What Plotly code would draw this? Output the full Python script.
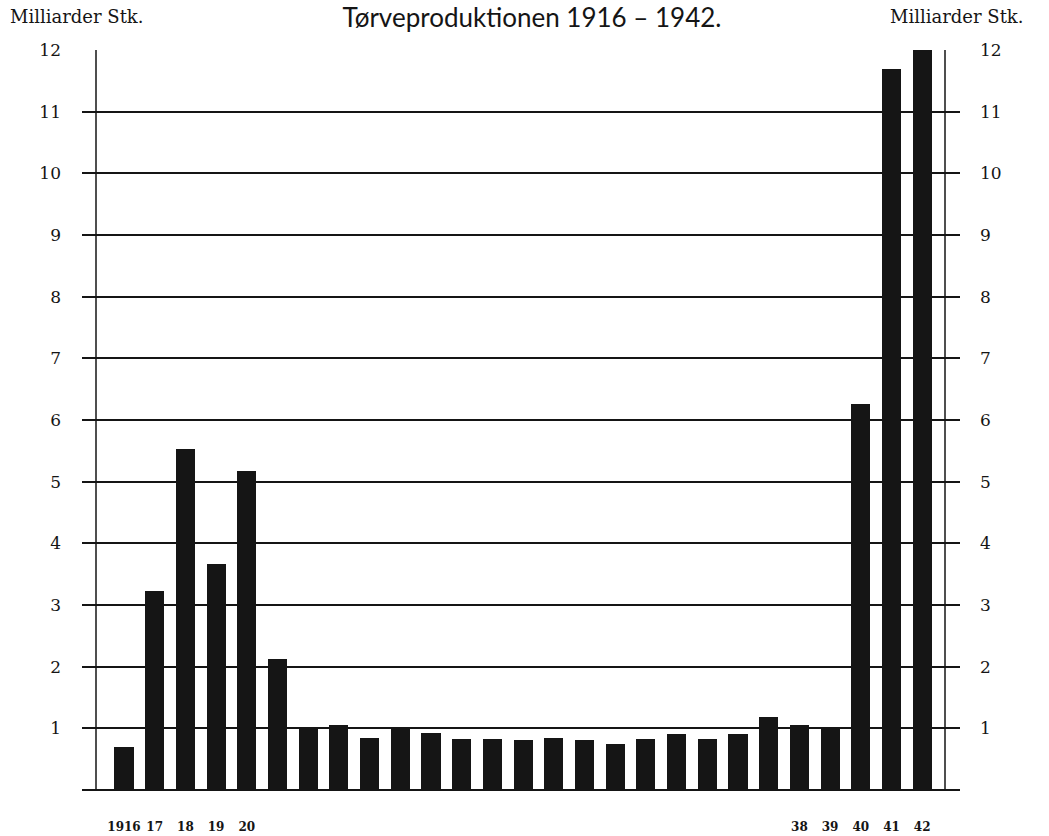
import plotly.graph_objects as go

years = list(range(1916, 1943))
values = [0.70, 3.22, 5.53, 3.66, 5.17, 2.13, 1.00, 1.05, 0.84, 1.00,
          0.92, 0.83, 0.83, 0.81, 0.84, 0.81, 0.74, 0.82, 0.91, 0.82,
          0.91, 1.18, 1.05, 1.01, 6.26, 11.69, 12.0]
xtick_vals = [1916, 1917, 1918, 1919, 1920, 1938, 1939, 1940, 1941, 1942]
xtick_text = ["1916", "17", "18", "19", "20", "38", "39", "40", "41", "42"]
ytick_vals = list(range(1, 13))
ytick_text = [str(v) for v in ytick_vals]

title_text = "Tørveproduktionen 1916 – 1942."
unit_text = "Milliarder Stk."

serif = "DejaVu Serif, Liberation Serif, serif"
ink = "#151515"

W, H = 1049, 836
left, right, top, bottom = 82, 960, 50, 790
px_per_year = 30.7
x_lo = 1916 - (124 - left) / px_per_year
x_hi = 1916 + (right - 124) / px_per_year


def px(xw):
    return (xw - left) / (right - left)


fig = go.Figure()
fig.add_trace(go.Bar(x=years, y=values, width=0.62,
                     marker=dict(color=ink, line=dict(width=0)),
                     showlegend=False, cliponaxis=False))
# invisible trace for the right axis
fig.add_trace(go.Scatter(x=[years[0]], y=[0], yaxis="y2", mode="markers",
                         marker=dict(opacity=0), showlegend=False,
                         hoverinfo="skip"))

fig.update_layout(
    width=W, height=H,
    margin=dict(l=left, r=W - right, t=top, b=H - bottom, pad=0, autoexpand=False),
    paper_bgcolor="white", plot_bgcolor="white",
    bargap=0,
    title=dict(text=title_text, x=532 / W, xanchor="center",
               y=1 - 18 / H, yanchor="middle", yref="container",
               font=dict(family="Lato, Open Sans, sans-serif", size=26, color=ink)),
    xaxis=dict(range=[x_lo, x_hi], tickmode="array", tickvals=xtick_vals,
               ticktext=xtick_text, showgrid=False, zeroline=False,
               showline=False, ticks="", ticklabelstandoff=28, automargin=False,
               tickfont=dict(family=serif, size=12, color=ink, weight="bold")),
    yaxis=dict(range=[0, 12], tickmode="array", tickvals=ytick_vals,
               ticktext=ytick_text, showgrid=True, gridcolor=ink, gridwidth=1.5,
               zeroline=True, zerolinecolor=ink, zerolinewidth=2,
               showline=False, ticks="", ticklabelstandoff=20, automargin=False,
               tickfont=dict(family=serif, size=17, color=ink)),
    yaxis2=dict(range=[0, 12], overlaying="y", side="right", tickmode="array",
                tickvals=ytick_vals, ticktext=ytick_text, showgrid=False,
                zeroline=False, showline=False, ticks="", ticklabelstandoff=19,
                automargin=False,
                tickfont=dict(family=serif, size=17, color=ink)),
    shapes=[
        dict(type="line", xref="paper", yref="y",
             x0=px(96), x1=px(96), y0=0, y1=12, line=dict(color=ink, width=1.5)),
        dict(type="line", xref="paper", yref="y",
             x0=px(945), x1=px(945), y0=0, y1=12, line=dict(color=ink, width=1.5)),
    ],
    annotations=[
        dict(text=unit_text, xref="paper", yref="paper",
             x=px(8), y=1 + (top - 17) / (bottom - top),
             xanchor="left", yanchor="middle", showarrow=False,
             font=dict(family=serif, size=18, color=ink)),
        dict(text=unit_text, xref="paper", yref="paper",
             x=px(888), y=1 + (top - 17) / (bottom - top),
             xanchor="left", yanchor="middle", showarrow=False,
             font=dict(family=serif, size=18, color=ink)),
    ],
)

# remove the browser's default 8px body margin so the figure fills the window
fig.write_html("out.html",
               config={"displayModeBar": False},
               post_script="document.body.style.margin='0';document.body.style.overflow='hidden';")
